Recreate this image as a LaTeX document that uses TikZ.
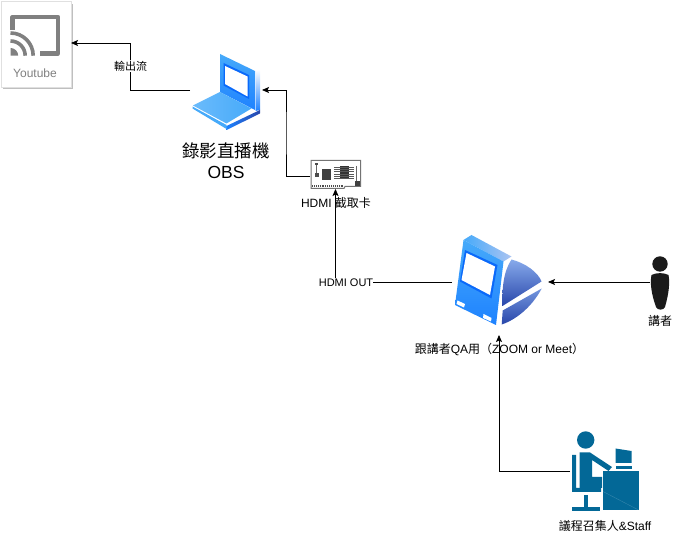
\documentclass[tikz,border=0pt]{standalone}
\usepackage{fontspec}
\setmainfont{Liberation Sans}
\newfontfamily\cjk{Noto Sans CJK TC}
\usetikzlibrary{arrows.meta}
\definecolor{castG}{RGB}{128,128,128}
\definecolor{staffB}{RGB}{3,104,151}
\definecolor{skyB}{RGB}{70,170,250}
\definecolor{macB}{RGB}{30,130,255}
\definecolor{frameB}{RGB}{10,105,250}
\definecolor{deepB}{RGB}{40,70,170}
\definecolor{softB}{RGB}{135,170,235}
\definecolor{manK}{RGB}{26,26,26}

\begin{document}
\begin{tikzpicture}[
    x=1pt, y=-1pt,
    box/.style={rectangle, inner sep=0pt, outer sep=0pt},
    wire/.style={draw=black, line width=0.8pt, -{Stealth[length=7pt,width=6pt,inset=1.5pt]}},
    tag/.style={font=\fontsize{12}{14}\selectfont, align=center, inner sep=0pt},
    smalltag/.style={font=\fontsize{11}{13}\selectfont, fill=white, inner xsep=0pt, inner ysep=1pt},
  ]
  \useasboundingbox (0,0) rectangle (673,534);

  % youtube card
  \fill[black!25] (3,4) rectangle (73,89);
  \fill[white, draw=black!12, line width=0.5pt] (1,1) rectangle (71,87);
  \draw[castG, line width=4.2pt, line join=round] (12.5,30) -- (12.5,17) -- (58,17) -- (58,53.5) -- (40,53.5);
  \fill[castG] (10.5,55.7) -- (10.5,48) arc[start angle=-90, end angle=0, radius=7.7] -- cycle;
  \draw[castG, line width=3.6pt] (10.5,41) arc[start angle=-90, end angle=0, radius=14.7];
  \draw[castG, line width=3.6pt] (10.5,33) arc[start angle=-90, end angle=0, radius=22.7];

  % laptop
  \shade[top color=skyB, bottom color=macB] (220,54) -- (255,71) -- (255,110) -- (220,92) -- cycle;
  \fill[frameB] (223.5,63) -- (249,75) -- (249,99) -- (223.5,85.5) -- cycle;
  \fill[white] (225,66) -- (247.5,76.5) -- (247.5,96.5) -- (225,84) -- cycle;
  \shade[top color=white, bottom color=macB] (255.5,72) -- (260,69.5) -- (260,110) -- (255.5,111) -- cycle;
  \shade[left color=skyB!80!white, right color=skyB] (220,92) -- (251.5,108.5) -- (226.5,123.5) -- (193,105.5) -- cycle;
  \shade[left color=macB, right color=deepB] (226.5,126) -- (260,110) -- (260,113.5) -- (226.5,130) -- cycle;
  \fill[skyB] (192.5,106.5) -- (226.5,125) -- (226.5,129) -- (192.5,108.5) -- cycle;

  % capture card
  \draw[black!55, fill=white, line width=1pt] (311,160.5) -- (360.5,160.5) -- (360.5,186.5) -- (345,186.5) -- (344,188.5) -- (311,188.5) -- cycle;
  \fill[black!75] (321.5,169) rectangle (331,180);
  \fill[black!80] (340,166) rectangle (348.5,179);
  \foreach \i in {0,...,5} {
    \draw[black!65, line width=1pt] (334,{167.5+\i*2.2}) -- (353.5,{167.5+\i*2.2});
  }
  \fill[black!75] (355,181) rectangle (360,186.5);
  \fill[black!70] (314.5,173.5) rectangle (318.5,177.5);
  \fill[black!70] (315,163) rectangle (318,165);
  \draw[black!60, line width=0.5pt] (316.3,165) -- (316.3,173.5);
  \draw[black!60, line width=0.5pt] (356.7,166) -- (356.7,181);
  \draw[black!70, line width=2.6pt, dash pattern=on 1pt off 0.9pt] (312,186) -- (343.5,186);

  % presenter computer
  \shade[top color=softB, bottom color=deepB] (511.5,259.5) .. controls (525,263) and (538,272) .. (541.5,281.5) -- (502.5,306) .. controls (502,290) and (503,272) .. (511.5,259.5) -- cycle;
  \shade[top color=softB!80!deepB, bottom color=deepB] (541.7,288.5) .. controls (533,305) and (518,319) .. (501.7,324.5) -- (502.7,310.5) -- cycle;
  \shade[left color=skyB, right color=softB!70!white] (463.5,240) -- (471.5,235) -- (511.5,256.5) -- (503.5,261.5) -- cycle;
  \shade[top color=skyB, bottom color=macB] (463.5,240) -- (503.5,261.5) -- (496,325) -- (455,305) -- cycle;
  \fill[frameB] (465,250) -- (497.5,265) -- (491.5,298.5) -- (460,281.5) -- cycle;
  \fill[white] (466.5,253) -- (495,266.5) -- (490,295) -- (461.5,280) -- cycle;
  \fill[white] (457.5,300.5) -- (465,304) -- (464,307.5) -- (456.5,304) -- cycle;
  \fill[white] (483.5,314) -- (491.5,318) -- (491,321.5) -- (483,318) -- cycle;

  % speaker
  \fill[manK] (660,264) circle[radius=7.7];
  \fill[manK] (651.5,275) .. controls (650,282) and (651,293) .. (656,307) .. controls (657,310.5) and (664,310.5) .. (665,307) .. controls (669,293) and (670,282) .. (668.5,275) .. controls (664,272.5) and (656,272.5) .. (651.5,275) -- cycle;

  % staff
  \fill[staffB] (585.7,440) circle[radius=8.7];
  \fill[staffB] (572,455) -- (576,455) -- (576,488) -- (601,488) -- (601,492) -- (572,492) -- cycle;
  \fill[staffB] (579.5,452.5) -- (590,452.5) -- (612,467) -- (608.5,471) -- (592,460) -- (592,477) -- (602,477) -- (602,488) -- (579.5,488) -- cycle;
  \fill[staffB] (583.5,495) rectangle (587.5,508);
  \fill[staffB] (572,507.5) rectangle (600,511);
  \fill[staffB] (603,471.5) rectangle (638.5,510);
  \fill[staffB] (615.5,448.5) -- (631.5,451) -- (631.5,463) -- (615.5,463) -- cycle;
  \fill[staffB] (615.5,466) rectangle (631.5,469);
  \draw[white, opacity=0.2, line width=0.4pt] (603,491.5) -- (638.5,510);

  \node[box, minimum width=70pt, minimum height=86pt] (youtube) at (36,43) {};
  \node[box, minimum width=72pt, minimum height=72pt] (laptop) at (226,90) {};
  \node[box, minimum width=51pt, minimum height=26pt] (hdmicard) at (335.5,176) {};
  \node[box, minimum width=96pt, minimum height=106pt] (macpc) at (500,282) {};
  \node[box, minimum width=20pt, minimum height=54pt] (speaker) at (660,282) {};
  \node[box, minimum width=68pt, minimum height=80pt] (staff) at (604,471) {};

  \coordinate (bendA) at (130.5,66);
  \coordinate (bendB) at (286,133);
  \coordinate (bendC) at (335.5,282);
  \coordinate (bendD) at (499,471);

  \node[tag] (cardtag) at (336,202.5) {HDMI {\cjk 截取卡}};
  \node[tag] (pctag) at (499.5,349.5) {{\cjk 跟講者}QA{\cjk 用（}ZOOM or Meet{\cjk ）}};

  \draw[wire] (laptop.west) -| (bendA) |- (youtube.east);
  \draw[wire] (hdmicard.west) -| (bendB) |- (laptop.east);
  \draw[wire] (macpc.west) -- (bendC) -- (bendC |- hdmicard.south);
  \draw[wire] (speaker.west) -- (macpc.east);
  \draw[wire] (staff.west) -- (bendD) -- (bendD |- macpc.south);

  \node[smalltag] (outtag) at (bendA) {\cjk 輸出流};
  \node[smalltag] (hdmiout) at (346,282.5) {HDMI OUT};
  \node[tag, text=castG] (youtubetag) at (35,73.5) {Youtube};
  \node[tag, font=\fontsize{17.5}{21}\selectfont] (obstag) at (226,161) {{\cjk 錄影直播機}\\OBS};
  \node[tag] (speakertag) at (660,320.5) {\cjk 講者};
  \node[tag] (stafftag) at (605,525.5) {{\cjk 議程召集人}\&Staff};

\end{tikzpicture}
\end{document}
